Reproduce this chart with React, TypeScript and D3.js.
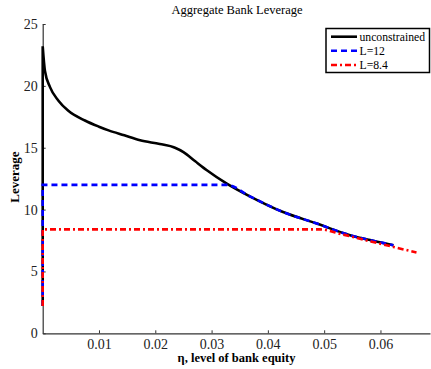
import { useEffect, useRef } from 'react';
import * as d3 from 'd3';

// values
const etaUnconstrained = [0, 0, 0.0004, 0.0013, 0.0028, 0.0045, 0.0075, 0.01, 0.0117, 0.0145, 0.0173, 0.0208, 0.0235, 0.025, 0.0271, 0.0291, 0.0327, 0.0368, 0.0427, 0.0487, 0.0546, 0.0585, 0.0623];
const levUnconstrained = [2.2, 23.2, 21.2, 19.9, 18.8, 18.0, 17.2, 16.7, 16.4, 16.0, 15.6, 15.3, 15.0, 14.65, 13.9, 13.2, 12.1, 11.07, 9.8, 8.87, 7.93, 7.5, 7.12];

const etaL12 = [0, 0, 0.0327, 0.0368, 0.0427, 0.0487, 0.0546, 0.0585, 0.0623];
const levL12 = [2.2, 12, 12, 11.07, 9.8, 8.87, 7.93, 7.5, 7.12];

const etaL84 = [0, 0, 0.0493, 0.053, 0.0585, 0.0623, 0.0664];
const levL84 = [2.2, 8.4, 8.4, 8.02, 7.4, 6.98, 6.53];

const xTicks = [0.01, 0.02, 0.03, 0.04, 0.05, 0.06];
const yTicks = [0, 5, 10, 15, 20, 25];

const seriesNames = ['unconstrained', 'L=12', 'L=8.4'];
const seriesColors = ['#000000', '#0000ff', '#ff0000'];
const seriesDash = ['none', '6,4', '6,3,2,3'];

const FONT = '"Liberation Serif", "Times New Roman", serif';

const App = () => {
  const svgRef = useRef(null);

  useEffect(() => {
    const width = 431;
    const height = 369;

    const x = d3.scaleLinear([0, 0.0688], [42.7, 430]);
    const y = d3.scaleLinear([0, 25], [333.3, 24]);

    const svg = d3
      .select(svgRef.current)
      .attr('width', width)
      .attr('height', height)
      .attr('viewBox', [0, 0, width, height])
      .style('position', 'absolute')
      .style('left', 0)
      .style('top', 0)
      .style('background', '#fff');

    svg.selectAll('*').remove();

    const series = [
      [etaUnconstrained, levUnconstrained],
      [etaL12, levL12],
      [etaL84, levL84],
    ];

    const line = d3
      .line()
      .x((d) => x(d[0]))
      .y((d) => y(d[1]))
      .curve(d3.curveMonotoneX);

    // first point is the vertical jump at eta=0, the rest is smooth
    const seriesPath = (pts) => {
      const [e0, l0] = pts[0];
      return `M${x(e0)},${y(l0)}` + line(pts.slice(1)).replace(/^M/, 'L');
    };

    // axes
    const yAxis = d3
      .axisLeft(y)
      .tickValues(yTicks)
      .tickFormat(d3.format('d'))
      .tickSizeInner(-3)
      .tickSizeOuter(0)
      .tickPadding(5);

    const xAxis = d3
      .axisBottom(x)
      .tickValues(xTicks)
      .tickFormat(d3.format('.2f'))
      .tickSizeInner(-3)
      .tickSizeOuter(0)
      .tickPadding(6);

    const gx = svg.append('g').attr('transform', `translate(0,${y(0)})`).call(xAxis);
    const gy = svg.append('g').attr('transform', `translate(${x(0)},0)`).call(yAxis);

    [gx, gy].forEach((g) => {
      g.selectAll('path').attr('stroke', '#333').attr('stroke-width', 1.2);
      g.selectAll('line').attr('stroke', '#333');
      g.selectAll('text')
        .attr('font-family', FONT)
        .attr('font-size', 14)
        .attr('fill', '#222');
    });

    // curves: drawn in order so red sits on top
    series.forEach(([etas, levs], i) => {
      svg
        .append('path')
        .attr('d', seriesPath(etas.map((e, j) => [e, levs[j]])))
        .attr('fill', 'none')
        .attr('stroke', seriesColors[i])
        .attr('stroke-width', 2.6)
        .attr('stroke-dasharray', seriesDash[i]);
    });

    // title and axis labels
    svg
      .append('text')
      .attr('x', 237)
      .attr('y', 13.5)
      .attr('text-anchor', 'middle')
      .attr('font-family', FONT)
      .attr('font-size', 12.5)
      .text('Aggregate Bank Leverage');

    svg
      .append('text')
      .attr('x', 236.5)
      .attr('y', 362)
      .attr('text-anchor', 'middle')
      .attr('font-family', FONT)
      .attr('font-size', 12.5)
      .attr('font-weight', 'bold')
      .text('η, level of bank equity');

    svg
      .append('text')
      .attr('transform', 'translate(18.5,177) rotate(-90)')
      .attr('text-anchor', 'middle')
      .attr('font-family', FONT)
      .attr('font-size', 13)
      .attr('font-weight', 'bold')
      .text('Leverage');

    // legend
    const legend = svg.append('g');
    legend
      .append('rect')
      .attr('x', 326)
      .attr('y', 28.5)
      .attr('width', 103.5)
      .attr('height', 44)
      .attr('fill', '#fff')
      .attr('stroke', '#000')
      .attr('stroke-width', 1.5);

    const rowY = [36.7, 50.7, 65];
    seriesNames.forEach((name, i) => {
      legend
        .append('line')
        .attr('x1', 331)
        .attr('x2', 357)
        .attr('y1', rowY[i])
        .attr('y2', rowY[i])
        .attr('stroke', seriesColors[i])
        .attr('stroke-width', 2.6)
        .attr('stroke-dasharray', seriesDash[i]);
      legend
        .append('text')
        .attr('x', 359.5)
        .attr('y', rowY[i])
        .attr('dy', '0.35em')
        .attr('font-family', FONT)
        .attr('font-size', 11.7)
        .text(name);
    });
  }, []);

  return <svg ref={svgRef}></svg>;
};

export default App;
